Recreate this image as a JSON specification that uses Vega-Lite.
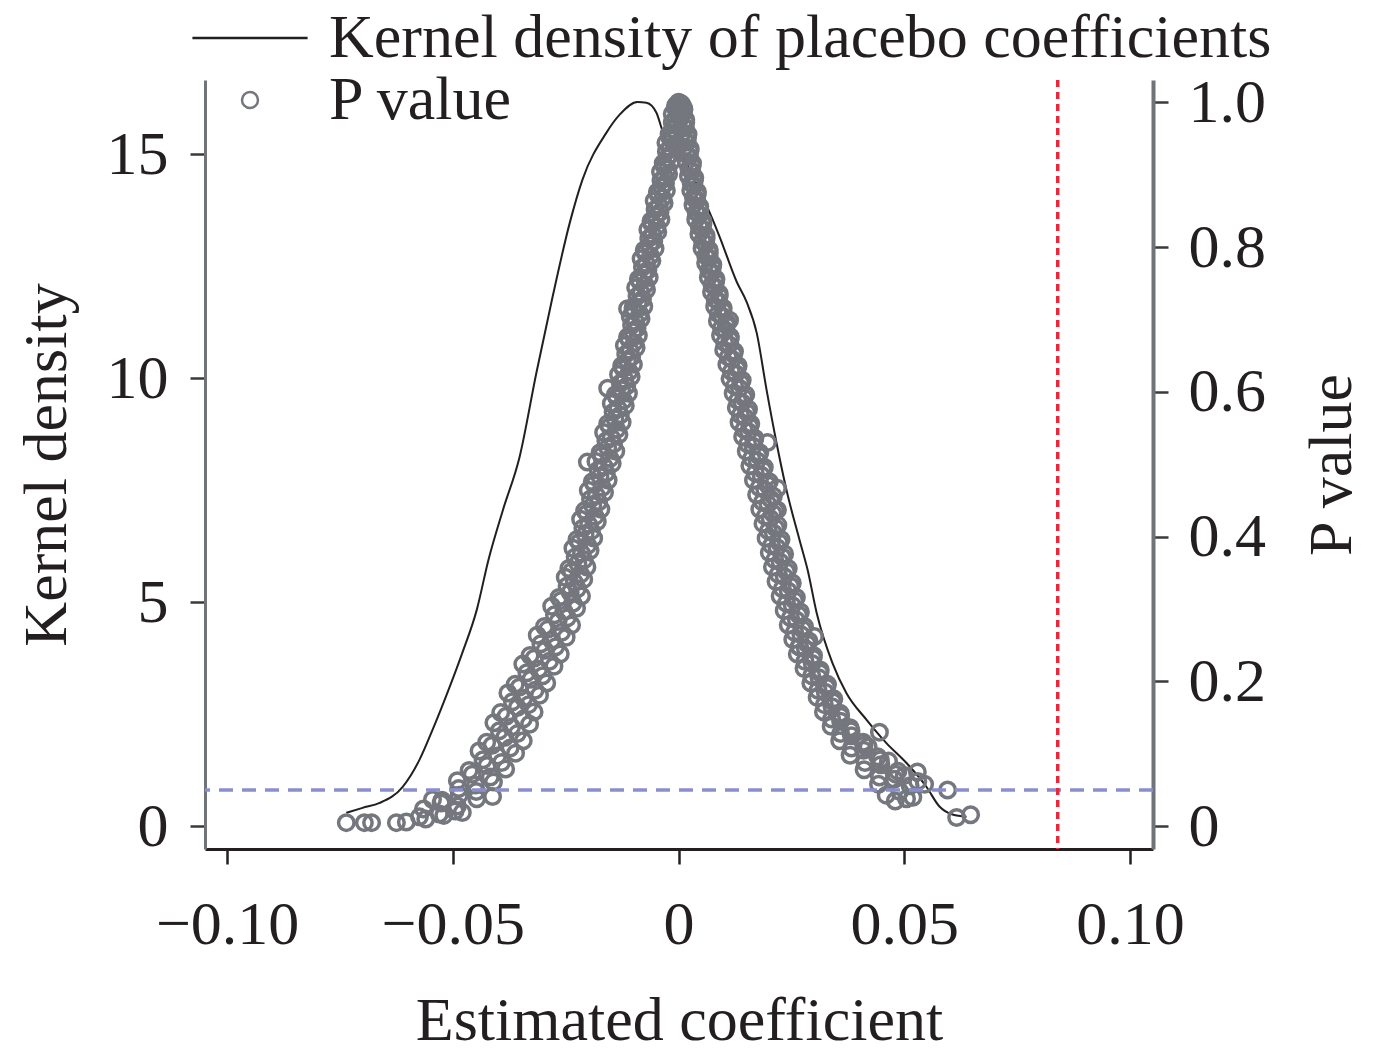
{
  "$schema": "https://vega.github.io/schema/vega-lite/v6.json",
  "width": 948,
  "height": 769,
  "autosize": "none",
  "padding": {"left": 205, "top": 80, "right": 225, "bottom": 214},
  "config": {
    "font": "Liberation Serif",
    "view": {"stroke": null},
    "axis": {
      "grid": false,
      "labelFont": "Liberation Serif", "labelFontSize": 62, "labelColor": "#231f20",
      "titleFont": "Liberation Serif", "titleFontSize": 62, "titleFontWeight": "normal", "titleColor": "#231f20",
      "tickSize": 15, "tickWidth": 2.5, "domainWidth": 3
    },
    "legend": {
      "orient": "none", "legendX": 14, "legendY": -73, "padding": 0,
      "labelFont": "Liberation Serif", "labelFontSize": 62, "labelColor": "#231f20", "labelLimit": 2000,
      "labelOffset": 48, "symbolSize": 256, "symbolStrokeWidth": 2.5, "rowPadding": -20
    }
  },
  "layer": [
    {
      "data": {"values": [
        {"c": -0.0736, "d": 0.30}, {"c": -0.0700, "d": 0.41}, {"c": -0.0662, "d": 0.52},
        {"c": -0.0611, "d": 0.88}, {"c": -0.0574, "d": 1.48}, {"c": -0.0545, "d": 2.15},
        {"c": -0.0507, "d": 3.11}, {"c": -0.0479, "d": 3.87}, {"c": -0.0447, "d": 4.83},
        {"c": -0.0421, "d": 5.95}, {"c": -0.0389, "d": 7.06},
        {"c": -0.0352, "d": 8.25}, {"c": -0.0315, "d": 10.12}, {"c": -0.0279, "d": 11.82},
        {"c": -0.0241, "d": 13.47}, {"c": -0.0213, "d": 14.43}, {"c": -0.0160, "d": 15.48},
        {"c": -0.0131, "d": 15.88}, {"c": -0.0091, "d": 16.17}, {"c": -0.0071, "d": 16.15},
        {"c": -0.0049, "d": 15.93}, {"c": -0.0035, "d": 15.51}, {"c": -0.0016, "d": 15.15},
        {"c": 0.0002, "d": 15.06}, {"c": 0.0035, "d": 14.44}, {"c": 0.0069, "d": 13.70},
        {"c": 0.0091, "d": 13.16}, {"c": 0.0129, "d": 12.15}, {"c": 0.0151, "d": 11.70},
        {"c": 0.0173, "d": 11.02}, {"c": 0.0195, "d": 9.74}, {"c": 0.0217, "d": 8.56},
        {"c": 0.0239, "d": 7.51}, {"c": 0.0268, "d": 6.39}, {"c": 0.0286, "d": 5.72},
        {"c": 0.0306, "d": 4.76}, {"c": 0.0341, "d": 3.64}, {"c": 0.0372, "d": 2.97},
        {"c": 0.0417, "d": 2.37}, {"c": 0.0461, "d": 1.85}, {"c": 0.0505, "d": 1.41},
        {"c": 0.0549, "d": 0.88}, {"c": 0.0578, "d": 0.44}, {"c": 0.0607, "d": 0.26},
        {"c": 0.0638, "d": 0.21}
      ]},
      "mark": {"type": "line", "strokeWidth": 2, "interpolate": "monotone"},
      "encoding": {
        "x": {"field": "c", "type": "quantitative", "title": "Estimated coefficient",
          "scale": {"domain": [-0.1049, 0.1051], "nice": false, "zero": false},
          "axis": {"values": [-0.1, -0.05, 0, 0.05, 0.1], "labelExpr": "datum.value == 0 ? '0' : format(datum.value, '.2f')",
            "domainColor": "#231f20", "tickColor": "#231f20", "labelPadding": 30, "titlePadding": 35, "labelFlush": false}},
        "y": {"field": "d", "type": "quantitative", "title": "Kernel density",
          "scale": {"domain": [-0.509, 16.66], "nice": false, "zero": false},
          "axis": {"orient": "left", "values": [0, 5, 10, 15], "domainColor": "#707378", "tickColor": "#3a3a3a",
            "labelPadding": 22, "titlePadding": 28}},
        "stroke": {"datum": "Kernel density of placebo coefficients"}
      }
    },
    {
      "layer": [
        {
          "data": {"values": [
            {"c": -0.0565, "p": 0.024}, {"c": -0.0530, "p": 0.017}, {"c": -0.0495, "p": 0.021},
            {"c": -0.0524, "p": 0.036}, {"c": -0.0486, "p": 0.043}, {"c": -0.0447, "p": 0.038},
            {"c": -0.0490, "p": 0.063}, {"c": -0.0450, "p": 0.057}, {"c": -0.0410, "p": 0.061},
            {"c": -0.0464, "p": 0.077}, {"c": -0.0424, "p": 0.084}, {"c": -0.0383, "p": 0.079},
            {"c": -0.0442, "p": 0.104}, {"c": -0.0401, "p": 0.097}, {"c": -0.0361, "p": 0.101},
            {"c": -0.0425, "p": 0.116}, {"c": -0.0385, "p": 0.123}, {"c": -0.0344, "p": 0.118},
            {"c": -0.0409, "p": 0.143}, {"c": -0.0370, "p": 0.137}, {"c": -0.0330, "p": 0.141},
            {"c": -0.0394, "p": 0.157}, {"c": -0.0357, "p": 0.164}, {"c": -0.0320, "p": 0.158},
            {"c": -0.0378, "p": 0.184}, {"c": -0.0343, "p": 0.177}, {"c": -0.0308, "p": 0.181},
            {"c": -0.0362, "p": 0.196}, {"c": -0.0327, "p": 0.203}, {"c": -0.0292, "p": 0.198},
            {"c": -0.0345, "p": 0.224}, {"c": -0.0310, "p": 0.217}, {"c": -0.0276, "p": 0.221},
            {"c": -0.0329, "p": 0.236}, {"c": -0.0296, "p": 0.243}, {"c": -0.0262, "p": 0.238},
            {"c": -0.0313, "p": 0.264}, {"c": -0.0281, "p": 0.257}, {"c": -0.0249, "p": 0.261},
            {"c": -0.0297, "p": 0.276}, {"c": -0.0267, "p": 0.283}, {"c": -0.0237, "p": 0.278},
            {"c": -0.0281, "p": 0.304}, {"c": -0.0254, "p": 0.297}, {"c": -0.0226, "p": 0.301},
            {"c": -0.0265, "p": 0.316}, {"c": -0.0240, "p": 0.323}, {"c": -0.0215, "p": 0.318},
            {"c": -0.0251, "p": 0.344}, {"c": -0.0231, "p": 0.337}, {"c": -0.0210, "p": 0.341},
            {"c": -0.0243, "p": 0.356}, {"c": -0.0223, "p": 0.363}, {"c": -0.0203, "p": 0.358},
            {"c": -0.0234, "p": 0.384}, {"c": -0.0215, "p": 0.377}, {"c": -0.0196, "p": 0.381},
            {"c": -0.0225, "p": 0.396}, {"c": -0.0207, "p": 0.403}, {"c": -0.0188, "p": 0.398},
            {"c": -0.0217, "p": 0.424}, {"c": -0.0199, "p": 0.417}, {"c": -0.0180, "p": 0.421},
            {"c": -0.0208, "p": 0.436}, {"c": -0.0190, "p": 0.443}, {"c": -0.0172, "p": 0.438},
            {"c": -0.0200, "p": 0.464}, {"c": -0.0182, "p": 0.457}, {"c": -0.0164, "p": 0.461},
            {"c": -0.0191, "p": 0.476}, {"c": -0.0174, "p": 0.483}, {"c": -0.0156, "p": 0.478},
            {"c": -0.0183, "p": 0.504}, {"c": -0.0165, "p": 0.497}, {"c": -0.0147, "p": 0.501},
            {"c": -0.0174, "p": 0.516}, {"c": -0.0157, "p": 0.523}, {"c": -0.0139, "p": 0.518},
            {"c": -0.0166, "p": 0.544}, {"c": -0.0149, "p": 0.537}, {"c": -0.0132, "p": 0.541},
            {"c": -0.0157, "p": 0.556}, {"c": -0.0141, "p": 0.563}, {"c": -0.0125, "p": 0.558},
            {"c": -0.0149, "p": 0.584}, {"c": -0.0134, "p": 0.577}, {"c": -0.0118, "p": 0.581},
            {"c": -0.0140, "p": 0.596}, {"c": -0.0126, "p": 0.603}, {"c": -0.0111, "p": 0.598},
            {"c": -0.0133, "p": 0.624}, {"c": -0.0119, "p": 0.617}, {"c": -0.0105, "p": 0.621},
            {"c": -0.0126, "p": 0.636}, {"c": -0.0113, "p": 0.643}, {"c": -0.0100, "p": 0.638},
            {"c": -0.0120, "p": 0.664}, {"c": -0.0107, "p": 0.657}, {"c": -0.0094, "p": 0.661},
            {"c": -0.0113, "p": 0.676}, {"c": -0.0101, "p": 0.683}, {"c": -0.0089, "p": 0.678},
            {"c": -0.0107, "p": 0.704}, {"c": -0.0095, "p": 0.697}, {"c": -0.0083, "p": 0.701},
            {"c": -0.0101, "p": 0.716}, {"c": -0.0089, "p": 0.723}, {"c": -0.0077, "p": 0.718},
            {"c": -0.0095, "p": 0.744}, {"c": -0.0083, "p": 0.737}, {"c": -0.0071, "p": 0.741},
            {"c": -0.0089, "p": 0.756}, {"c": -0.0077, "p": 0.763}, {"c": -0.0065, "p": 0.758},
            {"c": -0.0083, "p": 0.784}, {"c": -0.0071, "p": 0.777}, {"c": -0.0059, "p": 0.781},
            {"c": -0.0076, "p": 0.796}, {"c": -0.0064, "p": 0.803}, {"c": -0.0052, "p": 0.798},
            {"c": -0.0068, "p": 0.824}, {"c": -0.0057, "p": 0.817}, {"c": -0.0046, "p": 0.821},
            {"c": -0.0061, "p": 0.836}, {"c": -0.0050, "p": 0.843}, {"c": -0.0039, "p": 0.838},
            {"c": -0.0054, "p": 0.864}, {"c": -0.0043, "p": 0.857}, {"c": -0.0032, "p": 0.861},
            {"c": -0.0047, "p": 0.876}, {"c": -0.0037, "p": 0.883}, {"c": -0.0027, "p": 0.878},
            {"c": -0.0040, "p": 0.904}, {"c": -0.0031, "p": 0.897}, {"c": -0.0022, "p": 0.901},
            {"c": -0.0034, "p": 0.916}, {"c": -0.0025, "p": 0.923}, {"c": -0.0016, "p": 0.918},
            {"c": -0.0028, "p": 0.944}, {"c": -0.0019, "p": 0.937}, {"c": -0.0010, "p": 0.941},
            {"c": -0.0021, "p": 0.956}, {"c": -0.0013, "p": 0.963}, {"c": -0.0005, "p": 0.958},
            {"c": -0.0014, "p": 0.984}, {"c": -0.0007, "p": 0.977}, {"c": 0.0000, "p": 0.981},
            {"c": -0.0006, "p": 0.996}, {"c": 0.0000, "p": 1.000}, {"c": 0.0006, "p": 0.998},
            {"c": -0.0526, "p": 0.032}, {"c": -0.0490, "p": 0.028},
            {"c": -0.0487, "p": 0.052}, {"c": -0.0448, "p": 0.048},
            {"c": -0.0457, "p": 0.072}, {"c": -0.0417, "p": 0.068},
            {"c": -0.0433, "p": 0.092}, {"c": -0.0392, "p": 0.088},
            {"c": -0.0413, "p": 0.112}, {"c": -0.0373, "p": 0.108},
            {"c": -0.0397, "p": 0.132}, {"c": -0.0357, "p": 0.128},
            {"c": -0.0382, "p": 0.152}, {"c": -0.0344, "p": 0.148},
            {"c": -0.0368, "p": 0.172}, {"c": -0.0332, "p": 0.168},
            {"c": -0.0353, "p": 0.192}, {"c": -0.0318, "p": 0.188},
            {"c": -0.0336, "p": 0.212}, {"c": -0.0301, "p": 0.208},
            {"c": -0.0320, "p": 0.232}, {"c": -0.0286, "p": 0.228},
            {"c": -0.0305, "p": 0.252}, {"c": -0.0272, "p": 0.248},
            {"c": -0.0290, "p": 0.272}, {"c": -0.0259, "p": 0.268},
            {"c": -0.0275, "p": 0.292}, {"c": -0.0246, "p": 0.288},
            {"c": -0.0260, "p": 0.312}, {"c": -0.0234, "p": 0.308},
            {"c": -0.0247, "p": 0.332}, {"c": -0.0224, "p": 0.328},
            {"c": -0.0237, "p": 0.352}, {"c": -0.0217, "p": 0.348},
            {"c": -0.0229, "p": 0.372}, {"c": -0.0209, "p": 0.368},
            {"c": -0.0220, "p": 0.392}, {"c": -0.0201, "p": 0.388},
            {"c": -0.0212, "p": 0.412}, {"c": -0.0193, "p": 0.408},
            {"c": -0.0203, "p": 0.432}, {"c": -0.0185, "p": 0.428},
            {"c": -0.0195, "p": 0.452}, {"c": -0.0177, "p": 0.448},
            {"c": -0.0187, "p": 0.472}, {"c": -0.0169, "p": 0.468},
            {"c": -0.0178, "p": 0.492}, {"c": -0.0160, "p": 0.488},
            {"c": -0.0170, "p": 0.512}, {"c": -0.0152, "p": 0.508},
            {"c": -0.0161, "p": 0.532}, {"c": -0.0144, "p": 0.528},
            {"c": -0.0153, "p": 0.552}, {"c": -0.0137, "p": 0.548},
            {"c": -0.0145, "p": 0.572}, {"c": -0.0129, "p": 0.568},
            {"c": -0.0137, "p": 0.592}, {"c": -0.0122, "p": 0.588},
            {"c": -0.0129, "p": 0.612}, {"c": -0.0115, "p": 0.608},
            {"c": -0.0123, "p": 0.632}, {"c": -0.0109, "p": 0.628},
            {"c": -0.0117, "p": 0.652}, {"c": -0.0104, "p": 0.648},
            {"c": -0.0110, "p": 0.672}, {"c": -0.0098, "p": 0.668},
            {"c": -0.0104, "p": 0.692}, {"c": -0.0092, "p": 0.688},
            {"c": -0.0098, "p": 0.712}, {"c": -0.0086, "p": 0.708},
            {"c": -0.0092, "p": 0.732}, {"c": -0.0080, "p": 0.728},
            {"c": -0.0086, "p": 0.752}, {"c": -0.0074, "p": 0.748},
            {"c": -0.0080, "p": 0.772}, {"c": -0.0068, "p": 0.768},
            {"c": -0.0074, "p": 0.792}, {"c": -0.0062, "p": 0.788},
            {"c": -0.0066, "p": 0.812}, {"c": -0.0055, "p": 0.808},
            {"c": -0.0059, "p": 0.832}, {"c": -0.0048, "p": 0.828},
            {"c": -0.0052, "p": 0.852}, {"c": -0.0041, "p": 0.848},
            {"c": -0.0045, "p": 0.872}, {"c": -0.0035, "p": 0.868},
            {"c": -0.0039, "p": 0.892}, {"c": -0.0029, "p": 0.888},
            {"c": -0.0032, "p": 0.912}, {"c": -0.0024, "p": 0.908},
            {"c": -0.0027, "p": 0.932}, {"c": -0.0018, "p": 0.928},
            {"c": -0.0020, "p": 0.952}, {"c": -0.0012, "p": 0.948},
            {"c": -0.0014, "p": 0.972}, {"c": -0.0006, "p": 0.968},
            {"c": -0.0007, "p": 0.992}, {"c": 0.0000, "p": 0.988},
            {"c": 0.0003, "p": 0.999}, {"c": 0.0009, "p": 0.995}, {"c": 0.0012, "p": 0.990},
            {"c": 0.0004, "p": 0.978}, {"c": 0.0010, "p": 0.985}, {"c": 0.0016, "p": 0.976},
            {"c": 0.0009, "p": 0.958}, {"c": 0.0015, "p": 0.965}, {"c": 0.0021, "p": 0.956},
            {"c": 0.0013, "p": 0.938}, {"c": 0.0019, "p": 0.945}, {"c": 0.0026, "p": 0.936},
            {"c": 0.0017, "p": 0.918}, {"c": 0.0024, "p": 0.925}, {"c": 0.0031, "p": 0.916},
            {"c": 0.0022, "p": 0.898}, {"c": 0.0029, "p": 0.905}, {"c": 0.0036, "p": 0.896},
            {"c": 0.0027, "p": 0.878}, {"c": 0.0034, "p": 0.885}, {"c": 0.0042, "p": 0.876},
            {"c": 0.0032, "p": 0.858}, {"c": 0.0040, "p": 0.865}, {"c": 0.0047, "p": 0.856},
            {"c": 0.0038, "p": 0.838}, {"c": 0.0046, "p": 0.845}, {"c": 0.0054, "p": 0.836},
            {"c": 0.0045, "p": 0.818}, {"c": 0.0053, "p": 0.825}, {"c": 0.0061, "p": 0.816},
            {"c": 0.0052, "p": 0.798}, {"c": 0.0060, "p": 0.805}, {"c": 0.0068, "p": 0.796},
            {"c": 0.0060, "p": 0.778}, {"c": 0.0068, "p": 0.785}, {"c": 0.0076, "p": 0.776},
            {"c": 0.0066, "p": 0.758}, {"c": 0.0074, "p": 0.765}, {"c": 0.0083, "p": 0.756},
            {"c": 0.0073, "p": 0.738}, {"c": 0.0081, "p": 0.745}, {"c": 0.0090, "p": 0.736},
            {"c": 0.0080, "p": 0.718}, {"c": 0.0089, "p": 0.725}, {"c": 0.0099, "p": 0.716},
            {"c": 0.0086, "p": 0.698}, {"c": 0.0096, "p": 0.705}, {"c": 0.0107, "p": 0.696},
            {"c": 0.0093, "p": 0.678}, {"c": 0.0104, "p": 0.685}, {"c": 0.0115, "p": 0.676},
            {"c": 0.0100, "p": 0.658}, {"c": 0.0112, "p": 0.665}, {"c": 0.0124, "p": 0.656},
            {"c": 0.0107, "p": 0.638}, {"c": 0.0119, "p": 0.645}, {"c": 0.0132, "p": 0.636},
            {"c": 0.0114, "p": 0.618}, {"c": 0.0127, "p": 0.625}, {"c": 0.0141, "p": 0.616},
            {"c": 0.0121, "p": 0.598}, {"c": 0.0135, "p": 0.605}, {"c": 0.0149, "p": 0.596},
            {"c": 0.0128, "p": 0.578}, {"c": 0.0141, "p": 0.585}, {"c": 0.0155, "p": 0.576},
            {"c": 0.0134, "p": 0.558}, {"c": 0.0147, "p": 0.565}, {"c": 0.0160, "p": 0.556},
            {"c": 0.0142, "p": 0.538}, {"c": 0.0155, "p": 0.545}, {"c": 0.0169, "p": 0.536},
            {"c": 0.0150, "p": 0.518}, {"c": 0.0165, "p": 0.525}, {"c": 0.0180, "p": 0.516},
            {"c": 0.0158, "p": 0.498}, {"c": 0.0174, "p": 0.505}, {"c": 0.0190, "p": 0.496},
            {"c": 0.0166, "p": 0.478}, {"c": 0.0183, "p": 0.485}, {"c": 0.0201, "p": 0.476},
            {"c": 0.0173, "p": 0.458}, {"c": 0.0191, "p": 0.465}, {"c": 0.0210, "p": 0.456},
            {"c": 0.0180, "p": 0.438}, {"c": 0.0198, "p": 0.445}, {"c": 0.0215, "p": 0.436},
            {"c": 0.0187, "p": 0.418}, {"c": 0.0203, "p": 0.425}, {"c": 0.0220, "p": 0.416},
            {"c": 0.0194, "p": 0.398}, {"c": 0.0210, "p": 0.405}, {"c": 0.0227, "p": 0.396},
            {"c": 0.0201, "p": 0.378}, {"c": 0.0218, "p": 0.385}, {"c": 0.0235, "p": 0.376},
            {"c": 0.0208, "p": 0.358}, {"c": 0.0225, "p": 0.365}, {"c": 0.0243, "p": 0.356},
            {"c": 0.0216, "p": 0.338}, {"c": 0.0234, "p": 0.345}, {"c": 0.0252, "p": 0.336},
            {"c": 0.0225, "p": 0.318}, {"c": 0.0243, "p": 0.325}, {"c": 0.0261, "p": 0.316},
            {"c": 0.0234, "p": 0.298}, {"c": 0.0252, "p": 0.305}, {"c": 0.0270, "p": 0.296},
            {"c": 0.0243, "p": 0.278}, {"c": 0.0261, "p": 0.285}, {"c": 0.0279, "p": 0.276},
            {"c": 0.0253, "p": 0.258}, {"c": 0.0271, "p": 0.265}, {"c": 0.0289, "p": 0.256},
            {"c": 0.0263, "p": 0.238}, {"c": 0.0281, "p": 0.245}, {"c": 0.0299, "p": 0.236},
            {"c": 0.0278, "p": 0.218}, {"c": 0.0296, "p": 0.225}, {"c": 0.0314, "p": 0.216},
            {"c": 0.0293, "p": 0.198}, {"c": 0.0311, "p": 0.205}, {"c": 0.0330, "p": 0.196},
            {"c": 0.0307, "p": 0.178}, {"c": 0.0325, "p": 0.185}, {"c": 0.0344, "p": 0.176},
            {"c": 0.0321, "p": 0.158}, {"c": 0.0340, "p": 0.165}, {"c": 0.0358, "p": 0.156},
            {"c": 0.0338, "p": 0.138}, {"c": 0.0359, "p": 0.145}, {"c": 0.0380, "p": 0.136},
            {"c": 0.0357, "p": 0.118}, {"c": 0.0383, "p": 0.125}, {"c": 0.0409, "p": 0.116},
            {"c": 0.0380, "p": 0.098}, {"c": 0.0410, "p": 0.105}, {"c": 0.0441, "p": 0.096},
            {"c": 0.0411, "p": 0.078}, {"c": 0.0448, "p": 0.085}, {"c": 0.0486, "p": 0.076},
            {"c": 0.0443, "p": 0.058}, {"c": 0.0478, "p": 0.065}, {"c": 0.0513, "p": 0.056},
            {"c": 0.0460, "p": 0.043}, {"c": 0.0490, "p": 0.048}, {"c": 0.0519, "p": 0.040},
            {"c": 0.0006, "p": 0.988}, {"c": 0.0011, "p": 0.992},
            {"c": 0.0010, "p": 0.968}, {"c": 0.0016, "p": 0.972},
            {"c": 0.0014, "p": 0.948}, {"c": 0.0020, "p": 0.952},
            {"c": 0.0018, "p": 0.928}, {"c": 0.0025, "p": 0.932},
            {"c": 0.0023, "p": 0.908}, {"c": 0.0030, "p": 0.912},
            {"c": 0.0028, "p": 0.888}, {"c": 0.0035, "p": 0.892},
            {"c": 0.0033, "p": 0.868}, {"c": 0.0041, "p": 0.872},
            {"c": 0.0039, "p": 0.848}, {"c": 0.0047, "p": 0.852},
            {"c": 0.0046, "p": 0.828}, {"c": 0.0054, "p": 0.832},
            {"c": 0.0053, "p": 0.808}, {"c": 0.0061, "p": 0.812},
            {"c": 0.0060, "p": 0.788}, {"c": 0.0068, "p": 0.792},
            {"c": 0.0067, "p": 0.768}, {"c": 0.0075, "p": 0.772},
            {"c": 0.0074, "p": 0.748}, {"c": 0.0082, "p": 0.752},
            {"c": 0.0081, "p": 0.728}, {"c": 0.0090, "p": 0.732},
            {"c": 0.0088, "p": 0.708}, {"c": 0.0098, "p": 0.712},
            {"c": 0.0095, "p": 0.688}, {"c": 0.0106, "p": 0.692},
            {"c": 0.0102, "p": 0.668}, {"c": 0.0114, "p": 0.672},
            {"c": 0.0110, "p": 0.648}, {"c": 0.0122, "p": 0.652},
            {"c": 0.0117, "p": 0.628}, {"c": 0.0130, "p": 0.632},
            {"c": 0.0124, "p": 0.608}, {"c": 0.0138, "p": 0.612},
            {"c": 0.0131, "p": 0.588}, {"c": 0.0145, "p": 0.592},
            {"c": 0.0137, "p": 0.568}, {"c": 0.0151, "p": 0.572},
            {"c": 0.0145, "p": 0.548}, {"c": 0.0158, "p": 0.552},
            {"c": 0.0153, "p": 0.528}, {"c": 0.0167, "p": 0.532},
            {"c": 0.0162, "p": 0.508}, {"c": 0.0177, "p": 0.512},
            {"c": 0.0170, "p": 0.488}, {"c": 0.0187, "p": 0.492},
            {"c": 0.0179, "p": 0.468}, {"c": 0.0197, "p": 0.472},
            {"c": 0.0186, "p": 0.448}, {"c": 0.0204, "p": 0.452},
            {"c": 0.0192, "p": 0.428}, {"c": 0.0209, "p": 0.432},
            {"c": 0.0199, "p": 0.408}, {"c": 0.0215, "p": 0.412},
            {"c": 0.0206, "p": 0.388}, {"c": 0.0223, "p": 0.392},
            {"c": 0.0213, "p": 0.368}, {"c": 0.0230, "p": 0.372},
            {"c": 0.0221, "p": 0.348}, {"c": 0.0239, "p": 0.352},
            {"c": 0.0230, "p": 0.328}, {"c": 0.0248, "p": 0.332},
            {"c": 0.0239, "p": 0.308}, {"c": 0.0257, "p": 0.312},
            {"c": 0.0248, "p": 0.288}, {"c": 0.0266, "p": 0.292},
            {"c": 0.0257, "p": 0.268}, {"c": 0.0275, "p": 0.272},
            {"c": 0.0267, "p": 0.248}, {"c": 0.0285, "p": 0.252},
            {"c": 0.0280, "p": 0.228}, {"c": 0.0298, "p": 0.232},
            {"c": 0.0295, "p": 0.208}, {"c": 0.0313, "p": 0.212},
            {"c": 0.0309, "p": 0.188}, {"c": 0.0328, "p": 0.192},
            {"c": 0.0323, "p": 0.168}, {"c": 0.0342, "p": 0.172},
            {"c": 0.0339, "p": 0.148}, {"c": 0.0359, "p": 0.152},
            {"c": 0.0359, "p": 0.128}, {"c": 0.0382, "p": 0.132},
            {"c": 0.0383, "p": 0.108}, {"c": 0.0411, "p": 0.112},
            {"c": 0.0413, "p": 0.088}, {"c": 0.0447, "p": 0.092},
            {"c": 0.0445, "p": 0.068}, {"c": 0.0481, "p": 0.072},
            {"c": -0.0736, "p": 0.005}, {"c": -0.0696, "p": 0.005}, {"c": -0.0680, "p": 0.005},
            {"c": -0.0625, "p": 0.005}, {"c": -0.0603, "p": 0.006}, {"c": -0.0574, "p": 0.013},
            {"c": -0.0560, "p": 0.010}, {"c": -0.0520, "p": 0.015}, {"c": -0.0479, "p": 0.019},
            {"c": -0.0545, "p": 0.037}, {"c": -0.0412, "p": 0.041}, {"c": -0.0202, "p": 0.503},
            {"c": -0.0157, "p": 0.605}, {"c": -0.0113, "p": 0.715},
            {"c": 0.0113, "p": 0.699}, {"c": 0.0197, "p": 0.530}, {"c": 0.0219, "p": 0.467},
            {"c": 0.0219, "p": 0.437}, {"c": 0.0301, "p": 0.262}, {"c": 0.0268, "p": 0.248},
            {"c": 0.0445, "p": 0.130}, {"c": 0.0529, "p": 0.075}, {"c": 0.0596, "p": 0.050},
            {"c": 0.0616, "p": 0.012}, {"c": 0.0647, "p": 0.016}, {"c": 0.0420, "p": 0.110},
            {"c": 0.0465, "p": 0.090}, {"c": 0.0500, "p": 0.070}, {"c": 0.0530, "p": 0.062},
            {"c": 0.0480, "p": 0.035}, {"c": 0.0505, "p": 0.038}, {"c": 0.0545, "p": 0.058}
          ]},
          "mark": {"type": "point", "shape": "circle", "filled": false, "size": 240, "strokeWidth": 3.5, "opacity": 1},
          "encoding": {
            "x": {"field": "c", "type": "quantitative", "title": "Estimated coefficient",
              "scale": {"domain": [-0.1049, 0.1051], "nice": false, "zero": false}},
            "y": {"field": "p", "type": "quantitative", "title": "P value",
              "scale": {"domain": [-0.0314, 1.0308], "nice": false, "zero": false},
              "axis": {"orient": "right", "values": [0, 0.2, 0.4, 0.6, 0.8, 1],
                "labelExpr": "datum.value == 0 ? '0' : format(datum.value, '.1f')",
                "domainColor": "#707378", "domainWidth": 4, "tickColor": "#3a3a3a", "labelPadding": 20,
                "titleAngle": 270, "titleBaseline": "top", "titlePadding": 36}},
            "stroke": {"datum": "P value",
              "scale": {"domain": ["Kernel density of placebo coefficients", "P value"], "range": ["#231f20", "#74777d"]},
              "legend": {"title": null}},
            "shape": {"datum": "P value",
              "scale": {"domain": ["Kernel density of placebo coefficients", "P value"], "range": ["M-7.2,0L7.2,0", "circle"]},
              "legend": {"title": null}}
          }
        },
        {
          "data": {"values": [{"p": 0.05}]},
          "mark": {"type": "rule", "color": "#8a8ecf", "strokeWidth": 3.5, "strokeDash": [14, 9]},
          "encoding": {
            "y": {"field": "p", "type": "quantitative", "title": "P value",
              "scale": {"domain": [-0.0314, 1.0308], "nice": false, "zero": false},
              "axis": {"orient": "right", "values": [0, 0.2, 0.4, 0.6, 0.8, 1],
                "labelExpr": "datum.value == 0 ? '0' : format(datum.value, '.1f')",
                "domainColor": "#707378", "domainWidth": 4, "tickColor": "#3a3a3a", "labelPadding": 20,
                "titleAngle": 270, "titleBaseline": "top", "titlePadding": 36}}
          }
        }
      ]
    },
    {
      "data": {"values": [{"c": 0.084}]},
      "mark": {"type": "rule", "color": "#e8283c", "strokeWidth": 3.5, "strokeDash": [7, 5]},
      "encoding": {
        "x": {"field": "c", "type": "quantitative", "title": "Estimated coefficient",
          "scale": {"domain": [-0.1049, 0.1051], "nice": false, "zero": false}}
      }
    }
  ],
  "resolve": {"scale": {"y": "independent"}}
}
